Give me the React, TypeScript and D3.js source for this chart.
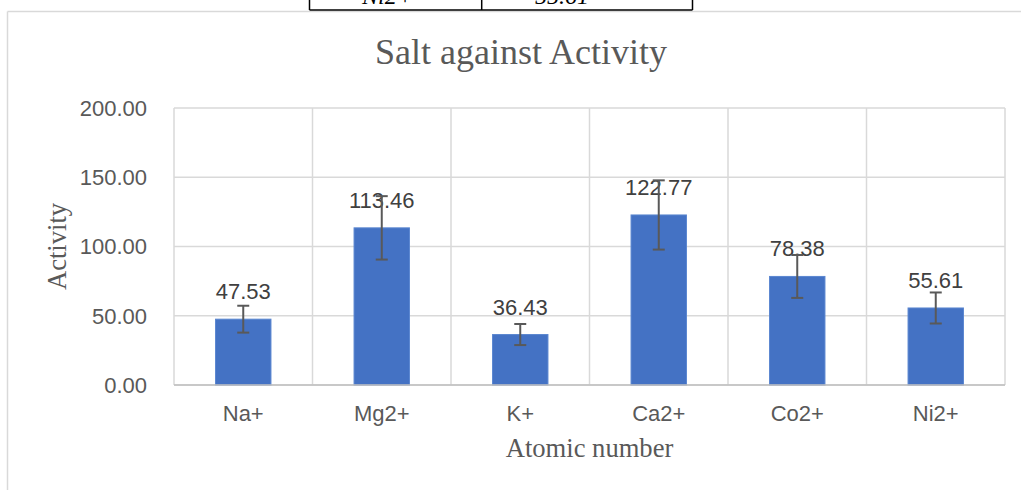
import React from "react";
import * as d3 from "d3";

const categories = ["Na+", "Mg2+", "K+", "Ca2+", "Co2+", "Ni2+"];
const values = [47.53, 113.46, 36.43, 122.77, 78.38, 55.61];
const errors = [9.7, 22.9, 7.6, 25.0, 15.5, 11.2];
const yTicks = [0, 50, 100, 150, 200];
const tableCells = ["Ni2+", "55.61"];

const W = 1021;
const H = 490;
const M = { left: 174, right: 1005, top: 108, bottom: 385 };
const TEXT = "#595959";
const SANS = "'Liberation Sans', Arial, sans-serif";
const SERIF = "'Liberation Serif', 'Times New Roman', serif";

export default function App() {
  const x = d3.scaleBand<string>().domain(categories).range([M.left, M.right]).paddingInner(0).paddingOuter(0);
  const y = d3.scaleLinear().domain([0, 200]).range([M.bottom, M.top]);
  const bw = x.bandwidth() * 0.4;

  return (
    <svg width={W} height={H} style={{ position: "absolute", left: 0, top: 0 }}>
      <rect x={0} y={0} width={W} height={H} fill="#fff" />
      {/* chart area border */}
      <line x1={7.5} x2={W} y1={11.5} y2={11.5} stroke="#D9D9D9" strokeWidth={1.5} />
      <line x1={7.5} x2={7.5} y1={11.5} y2={H} stroke="#D9D9D9" strokeWidth={1.5} />
      {/* table fragment at top */}
      <g stroke="#000" strokeWidth={1.5}>
        <line x1={309.5} x2={692.5} y1={10} y2={10} />
        <line x1={309.5} x2={309.5} y1={0} y2={10} />
        <line x1={481.7} x2={481.7} y1={0} y2={10} />
        <line x1={692.5} x2={692.5} y1={0} y2={10} />
      </g>
      <text x={362} y={4} fontFamily={SERIF} fontStyle="italic" fontSize={24} fill="#000">{tableCells[0]}</text>
      <text x={535} y={4} fontFamily={SERIF} fontStyle="italic" fontSize={24} fill="#000">{tableCells[1]}</text>

      {/* title */}
      <text x={521} y={64} textAnchor="middle" fontFamily={SERIF} fontSize={36} fill={TEXT}>Salt against Activity</text>

      {/* horizontal gridlines */}
      {yTicks.map((t) => (
        <line key={"h" + t} x1={M.left} x2={M.right} y1={y(t)} y2={y(t)} stroke="#D9D9D9" strokeWidth={1.5} />
      ))}
      {/* vertical gridlines */}
      {categories.map((c) => (
        <line key={"v" + c} x1={x(c)!} x2={x(c)!} y1={M.top} y2={M.bottom} stroke="#D9D9D9" strokeWidth={1.5} />
      ))}
      <line x1={M.right} x2={M.right} y1={M.top} y2={M.bottom} stroke="#D9D9D9" strokeWidth={1.5} />

      {/* y tick labels */}
      {yTicks.map((t) => (
        <text key={"yt" + t} x={147} y={y(t)} dy="0.36em" textAnchor="end" fontFamily={SANS} fontSize={22} fill={TEXT}>
          {t.toFixed(2)}
        </text>
      ))}

      {/* bars */}
      {categories.map((c, i) => {
        const cx = x(c)! + x.bandwidth() / 2;
        return (
          <rect key={"b" + c} x={cx - bw / 2} y={y(values[i])} width={bw} height={y(0) - y(values[i])} fill="#4472C4" stroke="#5A86D0" strokeWidth={1} />
        );
      })}

      {/* x axis line */}
      <line x1={M.left} x2={M.right} y1={y(0)} y2={y(0)} stroke="#BFBFBF" strokeWidth={1.5} />

      {/* data labels */}
      {categories.map((c, i) => {
        const cx = x(c)! + x.bandwidth() / 2;
        return (
          <text key={"l" + c} x={cx} y={y(values[i]) - 20} textAnchor="middle" fontFamily={SANS} fontSize={22} fill="#404040">
            {values[i].toFixed(2)}
          </text>
        );
      })}

      {/* error bars */}
      {categories.map((c, i) => {
        const cx = x(c)! + x.bandwidth() / 2;
        const yt = y(values[i] + errors[i]);
        const yb = y(values[i] - errors[i]);
        return (
          <g key={"e" + c} stroke="#595959" strokeWidth={2}>
            <line x1={cx} x2={cx} y1={yt} y2={yb} />
            <line x1={cx - 6} x2={cx + 6} y1={yt} y2={yt} />
            <line x1={cx - 6} x2={cx + 6} y1={yb} y2={yb} />
          </g>
        );
      })}

      {/* x labels */}
      {categories.map((c) => (
        <text key={"xl" + c} x={x(c)! + x.bandwidth() / 2} y={420.5} textAnchor="middle" fontFamily={SANS} fontSize={22} fill={TEXT}>
          {c}
        </text>
      ))}

      {/* axis titles */}
      <text x={589.5} y={457} textAnchor="middle" fontFamily={SERIF} fontSize={26.6} fill={TEXT}>Atomic number</text>
      <text transform={`translate(65.5,${(M.top + M.bottom) / 2}) rotate(-90)`} textAnchor="middle" fontFamily={SERIF} fontSize={26.6} fill={TEXT}>
        Activity
      </text>
    </svg>
  );
}
